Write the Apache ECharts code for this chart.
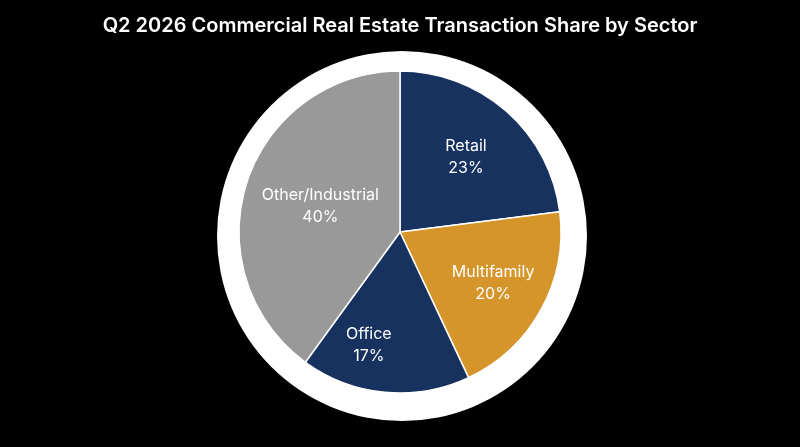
<!DOCTYPE html>
<html>
<head>
<meta charset="utf-8">
<script src="https://cdn.jsdelivr.net/npm/echarts@6/dist/echarts.min.js"></script>
<style>
  html, body { margin: 0; padding: 0; background: #000; }
  #chart { width: 800px; height: 447px; }
</style>
</head>
<body>
<div id="chart"></div>
<script>
const sectors = ['Retail', 'Multifamily', 'Office', 'Other/Industrial'];
const shares = [23, 20, 17, 40];
const colors = ['#17325f', '#d6952a', '#17325f', '#999999'];
// where each label sits: share of pie radius, and a small turn in degrees
const labelDist = [0.62, 0.66, 0.73, 0.52];
const labelTurn = [0, 0, 10, 0];

const pieCenter = [400, 232];
const pieRadius = 161;

const total = shares.reduce((a, b) => a + b, 0);
const midAngle = (i) => {
  let before = 0;
  for (let k = 0; k < i; k++) before += shares[k];
  return (before + shares[i] / 2) / total * Math.PI * 2;
};

const chart = echarts.init(document.getElementById('chart'));
chart.setOption({
  backgroundColor: '#000',
  title: {
    text: 'Q2 2026 Commercial Real Estate Transaction Share by Sector',
    left: 'center',
    top: 11,
    textStyle: {
      color: '#fff',
      fontFamily: 'Inter',
      fontWeight: 600,
      fontSize: 20
    }
  },
  series: [
    {
      // white ring behind the pie
      type: 'pie',
      silent: true,
      center: [402, 236],
      radius: 185,
      label: { show: false },
      itemStyle: { color: '#fff' },
      data: [{ value: 1, name: 'ring' }]
    },
    {
      type: 'pie',
      center: pieCenter,
      radius: pieRadius,
      startAngle: 90,
      clockwise: true,
      silent: true,
      itemStyle: { borderColor: '#fff', borderWidth: 1.5 },
      label: {
        show: true,
        position: 'inside',
        color: '#fff',
        fontFamily: 'Inter',
        fontSize: 16,
        lineHeight: 22,
        formatter: (p) => p.name + '\n' + p.value + '%'
      },
      labelLayout: (p) => {
        const a = midAngle(p.dataIndex) + labelTurn[p.dataIndex] * Math.PI / 180;
        const d = pieRadius * labelDist[p.dataIndex];
        return {
          x: pieCenter[0] + d * Math.sin(a),
          y: pieCenter[1] - d * Math.cos(a),
          align: 'center',
          verticalAlign: 'middle'
        };
      },
      data: sectors.map((s, i) => ({
        name: s,
        value: shares[i],
        itemStyle: { color: colors[i] }
      }))
    }
  ]
});
</script>
</body>
</html>
